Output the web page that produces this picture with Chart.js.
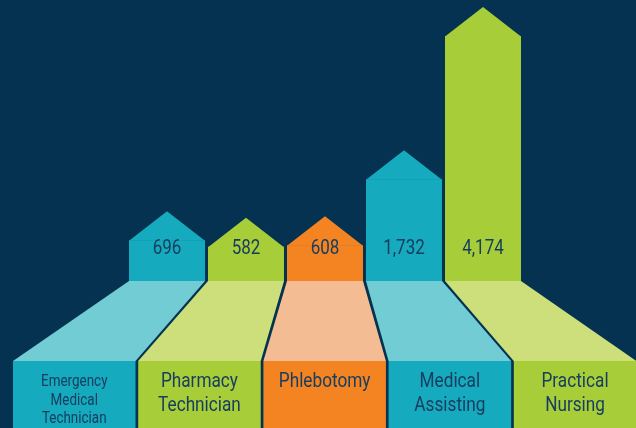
<!DOCTYPE html>
<html>
<head>
<meta charset="utf-8">
<script src="https://cdn.jsdelivr.net/npm/chart.js@4"></script>
<style>
  html, body { margin: 0; padding: 0; background: #053250; }
  canvas { display: block; }
</style>
</head>
<body>
<canvas id="arrows" width="636" height="428"></canvas>
<script>
// data
const programs = [
  ['Emergency', 'Medical', 'Technician'],
  ['Pharmacy', 'Technician'],
  ['Phlebotomy'],
  ['Medical', 'Assisting'],
  ['Practical', 'Nursing']
];
const graduates = [696, 582, 608, 1732, 4174];

const barColors = ['#15AABD', '#A7CD39', '#F48421', '#15AABD', '#A7CD39'];
const sideColors = ['#72CCD4', '#CDDF7B', '#F4BC93', '#72CCD4', '#CDDF7B'];
const inkColor = '#173D60';

function squeezeText(ctx, text, x, y, sx) {
  ctx.save();
  ctx.translate(x, y);
  ctx.scale(sx, 1);
  ctx.fillText(text, 0, 0);
  ctx.restore();
}

const arrowPlugin = {
  id: 'arrowPlugin',
  afterDatasetsDraw(chart) {
    const ctx = chart.ctx;
    const meta = chart.getDatasetMeta(0);
    const H = chart.height;
    const floorY = chart.chartArea.bottom;
    const boxTop = floorY + 80;
    const headH = 29;
    const boxStep = 125.2, boxW = 122.5, boxStart = 13;

    ctx.save();
    meta.data.forEach((bar, i) => {
      const p = bar.getProps(['x', 'y', 'width', 'base'], true);
      const l = p.x - p.width / 2, r = p.x + p.width / 2;

      // arrow head
      ctx.fillStyle = barColors[i];
      ctx.beginPath();
      ctx.moveTo(l, p.y + 0.5);
      ctx.lineTo(p.x, p.y - headH);
      ctx.lineTo(r, p.y + 0.5);
      ctx.closePath();
      ctx.fill();

      // perspective floor piece
      const bl = boxStart + i * boxStep;
      const br = bl + boxW;
      ctx.fillStyle = sideColors[i];
      ctx.beginPath();
      ctx.moveTo(l, floorY);
      ctx.lineTo(r, floorY);
      ctx.lineTo(br, boxTop);
      ctx.lineTo(bl, boxTop);
      ctx.closePath();
      ctx.fill();

      // label box
      ctx.fillStyle = barColors[i];
      ctx.fillRect(bl, boxTop, boxW, H - boxTop);

      // value
      ctx.fillStyle = inkColor;
      ctx.textAlign = 'center';
      ctx.textBaseline = 'middle';
      ctx.font = '400 20px Roboto';
      squeezeText(ctx, graduates[i].toLocaleString('en-US'), p.x, 249, 0.85);

      // category
      const lines = programs[i];
      const small = lines.length > 2;
      ctx.font = small ? '400 16px Roboto' : '400 20px Roboto';
      const step = small ? 18.5 : 24;
      lines.forEach((t, j) => {
        squeezeText(ctx, t, (bl + br) / 2, boxTop + 21 + j * step, small ? 0.84 : 0.86);
      });
    });
    ctx.restore();
  }
};

new Chart(document.getElementById('arrows'), {
  type: 'bar',
  data: {
    labels: programs.map(p => p.join(' ')),
    datasets: [{
      data: graduates,
      backgroundColor: barColors,
      borderWidth: 0,
      barPercentage: 0.962,
      categoryPercentage: 1
    }]
  },
  options: {
    responsive: false,
    animation: false,
    layout: { padding: { top: 5, bottom: 147, left: 127.5, right: 113.5 } },
    plugins: { legend: { display: false }, tooltip: { enabled: false } },
    scales: {
      x: { display: false },
      y: { display: false, min: 0, max: 4700 }
    }
  },
  plugins: [arrowPlugin]
});
</script>
</body>
</html>
